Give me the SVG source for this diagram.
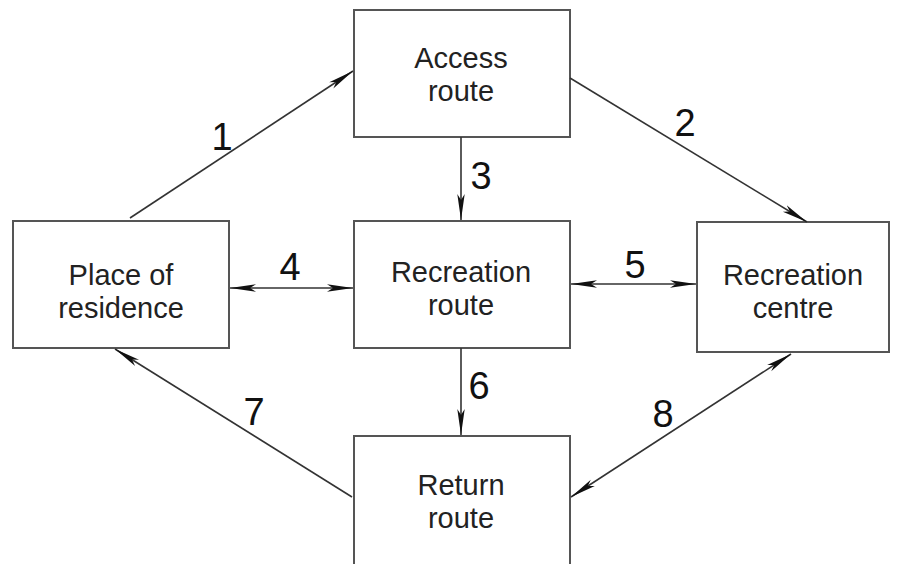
<svg xmlns="http://www.w3.org/2000/svg" width="902" height="564" viewBox="0 0 902 564">
<style>
.box{fill:#fff;stroke:#555;stroke-width:2}
.t{font-family:"Liberation Sans",Arial,sans-serif;font-size:29px;fill:#222;text-anchor:middle}
.n{font-family:"Liberation Sans",Arial,sans-serif;font-size:38px;fill:#111;text-anchor:middle}
.c{stroke:#333;stroke-width:1.6;fill:none}
.a{marker-end:url(#ah)}
.d{marker-start:url(#ah);marker-end:url(#ah)}
</style>
<defs>
<marker id="ah" markerUnits="userSpaceOnUse" markerWidth="28" markerHeight="10" refX="26" refY="4.5" orient="auto-start-reverse" viewBox="0 0 28 9">
<path d="M0,0.8 L26,4.5 L0,8.2 L6,4.5 Z" fill="#111"/>
</marker>
</defs>
<g id="access"><rect class="box" x="354" y="10" width="216" height="127"/><text class="t" x="461" y="68">Access</text><text class="t" x="461" y="101">route</text></g>
<g id="residence"><rect class="box" x="13" y="221" width="216" height="127"/><text class="t" x="121" y="285">Place of</text><text class="t" x="121" y="318">residence</text></g>
<g id="recroute"><rect class="box" x="354" y="221" width="216" height="127"/><text class="t" x="461" y="282">Recreation</text><text class="t" x="461" y="315">route</text></g>
<g id="centre"><rect class="box" x="697" y="222" width="192" height="130"/><text class="t" x="793" y="285">Recreation</text><text class="t" x="793" y="318">centre</text></g>
<g id="return"><rect class="box" x="354" y="436" width="216" height="140"/><text class="t" x="461" y="495">Return</text><text class="t" x="461" y="528">route</text></g>
<g id="connectors">
<line class="c a" x1="130" y1="218" x2="353" y2="71"/>
<line class="c a" x1="570" y1="78" x2="807" y2="222"/>
<line class="c a" x1="461" y1="137" x2="461" y2="220"/>
<line class="c d" x1="230" y1="288" x2="353" y2="288"/>
<line class="c d" x1="571" y1="284" x2="696" y2="284"/>
<line class="c a" x1="461" y1="348" x2="461" y2="435"/>
<line class="c a" x1="352" y1="497" x2="115" y2="349"/>
<line class="c d" x1="571" y1="497" x2="791" y2="354"/>
</g>
<g id="labels">
<text class="n" x="222" y="150">1</text>
<text class="n" x="685" y="136">2</text>
<text class="n" x="481" y="189">3</text>
<text class="n" x="290" y="280">4</text>
<text class="n" x="635" y="278">5</text>
<text class="n" x="479" y="399">6</text>
<text class="n" x="254" y="425">7</text>
<text class="n" x="663" y="427">8</text>
</g>
</svg>
